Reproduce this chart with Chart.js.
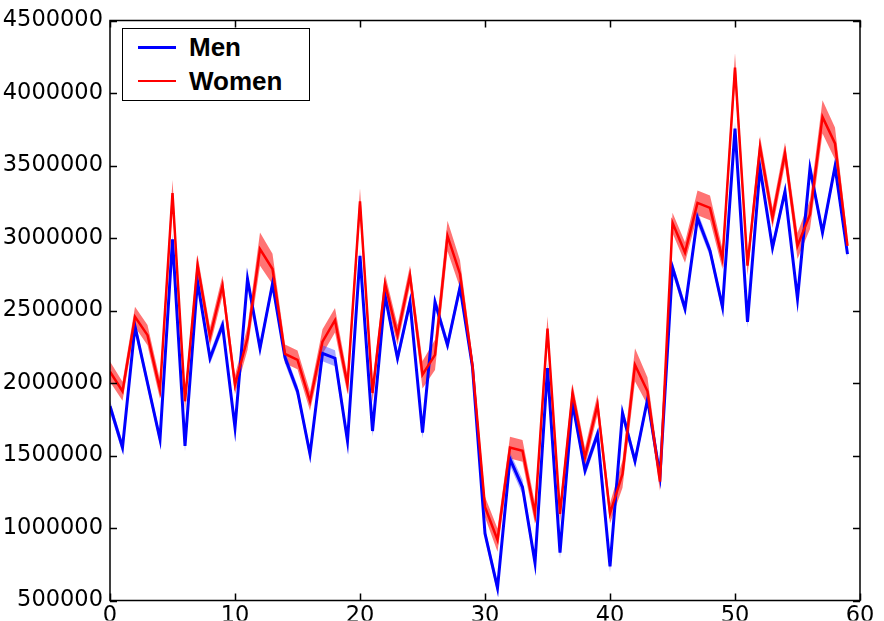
<!DOCTYPE html>
<html>
<head>
<meta charset="utf-8">
<script src="https://cdn.jsdelivr.net/npm/chart.js@4/dist/chart.umd.min.js"></script>
<style>
  html, body { margin: 0; padding: 0; background: #fff; }
  #wrap { position: relative; width: 884px; height: 621px; overflow: hidden; }
  #legend {
    position: absolute; left: 122px; top: 28px; width: 186px; height: 71px;
    border: 1.5px solid #000; background: #fff; box-sizing: content-box;
    font-family: "Liberation Sans", Arial, sans-serif; font-weight: bold; font-size: 26px; color: #000;
  }
  .item { position: absolute; left: 0; height: 30px; width: 186px; }
  .swatch { position: absolute; left: 15px; width: 38px; top: 14px; }
  .label { position: absolute; left: 66px; top: 1px; line-height: 28px; }
</style>
</head>
<body>
<div id="wrap">
  <canvas id="c" width="884" height="621"></canvas>
  <div id="legend">
    <div class="item" style="top:3px"><div class="swatch" style="border-top:3px solid #0000ff"></div><div class="label">Men</div></div>
    <div class="item" style="top:37px"><div class="swatch" style="border-top:2px solid #ff0000"></div><div class="label">Women</div></div>
  </div>
</div>
<script>
const xValues = [0,1,2,3,4,5,6,7,8,9,10,11,12,13,14,15,16,17,18,19,20,21,22,23,24,25,26,27,28,29,
                 30,31,32,33,34,35,36,37,38,39,40,41,42,43,44,45,46,47,48,49,50,51,52,53,54,55,56,57,58,59];
const seriesNames = ["Men", "Women"];
const men = [1840000,1555000,2390000,2000000,1612000,2990000,1567000,2700000,2171000,2399000,
             1692000,2718000,2239000,2684000,2175000,1943000,1509000,2205000,2171000,1601000,
             2877000,1669000,2604000,2171000,2558000,1658000,2558000,2262000,2661000,2110000,
             962000,587000,1476000,1282000,760000,2103000,830000,1863000,1396000,1647000,
             735000,1794000,1462000,1886000,1360000,2797000,2512000,3139000,2912000,2524000,
             3755000,2421000,3485000,2934000,3321000,2581000,3481000,3037000,3492000,2889000];
const women = [2079000,1943000,2456000,2330000,1955000,3310000,1874000,2815000,2319000,2672000,
               1988000,2308000,2923000,2786000,2200000,2160000,1874000,2285000,2433000,1988000,
               3253000,1931000,2684000,2330000,2741000,2057000,2194000,3014000,2752000,2120000,
               1145000,917000,1555000,1532000,1097000,2376000,1097000,1931000,1487000,1852000,
               1101000,1372000,2125000,1943000,1320000,3105000,2900000,3242000,3208000,2854000,
               4176000,2809000,3629000,3139000,3584000,2946000,3162000,3835000,3652000,2946000];
const menErr = [40000,40000,40000,40000,40000,42000,40000,40000,40000,40000,
                40000,40000,40000,40000,40000,40000,40000,55000,55000,40000,
                42000,40000,40000,40000,40000,40000,40000,40000,40000,40000,
                40000,40000,45000,50000,40000,40000,40000,40000,40000,40000,
                40000,40000,40000,40000,40000,40000,40000,45000,40000,40000,
                42000,40000,40000,40000,40000,40000,42000,40000,40000,40000];
const womenErr = [70000,65000,70000,70000,65000,90000,65000,70000,65000,70000,
                  65000,80000,115000,105000,65000,65000,65000,85000,85000,65000,
                  90000,65000,70000,70000,70000,95000,105000,105000,95000,60000,
                  70000,80000,75000,75000,70000,85000,65000,65000,65000,70000,
                  70000,95000,115000,95000,65000,70000,70000,85000,85000,70000,
                  100000,70000,75000,70000,75000,90000,100000,115000,110000,65000];
const yTicks = [500000,1000000,1500000,2000000,2500000,3000000,3500000,4000000,4500000];
const xTicks = [0,10,20,30,40,50,60];

const pts = (vals, errs, sign) => xValues.map((x, i) => ({ x: x, y: vals[i] + sign * (errs ? errs[i] : 0) }));

const hidden = { borderWidth: 0, pointRadius: 0, borderColor: 'rgba(0,0,0,0)', tension: 0 };

const framePlugin = {
  id: 'frame',
  afterDatasetsDraw(chart) {
    const { ctx, chartArea: { left, right, top, bottom }, scales: { x, y } } = chart;
    ctx.save();
    ctx.strokeStyle = '#000';
    ctx.lineWidth = 1.5;
    ctx.strokeRect(left, top, right - left, bottom - top);
    const L = 7;
    ctx.beginPath();
    xTicks.forEach(v => {
      const px = Math.round(x.getPixelForValue(v)) + 0.5;
      ctx.moveTo(px, bottom); ctx.lineTo(px, bottom - L);
      ctx.moveTo(px, top); ctx.lineTo(px, top + L);
    });
    yTicks.forEach(v => {
      const py = Math.round(y.getPixelForValue(v)) + 0.5;
      ctx.moveTo(left, py); ctx.lineTo(left + L, py);
      ctx.moveTo(right, py); ctx.lineTo(right - L, py);
    });
    ctx.stroke();
    ctx.restore();
  }
};

new Chart(document.getElementById('c'), {
  type: 'line',
  data: {
    datasets: [
      Object.assign({ label: 'womenUpper', data: pts(women, womenErr, 1), fill: false, order: 6 }, hidden),
      Object.assign({ label: 'womenLower', data: pts(women, womenErr, -1), fill: '-1', backgroundColor: 'rgba(255,0,0,0.55)', order: 5 }, hidden),
      Object.assign({ label: 'menUpper', data: pts(men, menErr, 1), fill: false, order: 4 }, hidden),
      Object.assign({ label: 'menLower', data: pts(men, menErr, -1), fill: '-1', backgroundColor: 'rgba(60,60,255,0.45)', order: 3 }, hidden),
      { label: seriesNames[0], data: pts(men, null, 0), borderColor: '#0000ff', borderWidth: 3, pointRadius: 0, fill: false, tension: 0, order: 2 },
      { label: seriesNames[1], data: pts(women, null, 0), borderColor: '#ff0000', borderWidth: 2.5, pointRadius: 0, fill: false, tension: 0, order: 1 }
    ]
  },
  options: {
    responsive: false,
    animation: false,
    devicePixelRatio: 1,
    layout: { padding: { left: 0, right: 24, top: 15, bottom: 0 } },
    plugins: { legend: { display: false }, tooltip: { enabled: false } },
    scales: {
      x: {
        type: 'linear', min: 0, max: 60,
        afterBuildTicks: s => { s.ticks = xTicks.map(v => ({ value: v })); },
        afterFit: s => { s.height = 20; },
        grid: { display: false, drawTicks: false },
        border: { display: false },
        ticks: { padding: 2, color: '#000', font: { family: 'DejaVu Sans', size: 22.5 }, maxRotation: 0, callback: v => String(v) }
      },
      y: {
        type: 'linear', min: 500000, max: 4500000,
        afterBuildTicks: s => { s.ticks = yTicks.map(v => ({ value: v })); },
        afterFit: s => { s.width = 110; },
        grid: { display: false, drawTicks: false },
        border: { display: false },
        ticks: { padding: 7, color: '#000', font: { family: 'DejaVu Sans', size: 22.5 }, callback: v => String(v) }
      }
    }
  },
  plugins: [framePlugin]
});
</script>
</body>
</html>
